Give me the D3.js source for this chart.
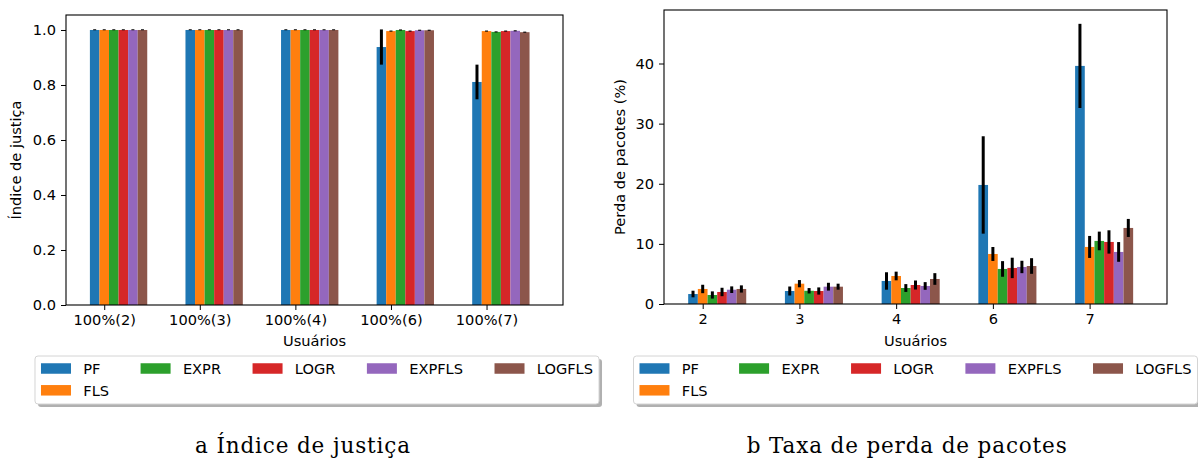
<!DOCTYPE html>
<html>
<head>
<meta charset="utf-8">
<script src="https://cdn.jsdelivr.net/npm/d3@7"></script>
<style>
  body { margin: 0; background: #fff; }
  text { font-family: "DejaVu Sans", sans-serif; fill: #000; }
</style>
</head>
<body>
<div id="chart"></div>
<script>
// series shared by both panels
var series = ["PF", "FLS", "EXPR", "LOGR", "EXPFLS", "LOGFLS"];
var colors = ["#1f77b4", "#ff7f0e", "#2ca02c", "#d62728", "#9467bd", "#8c564b"];

// panel a: fairness index
var fairCats = ["100%(2)", "100%(3)", "100%(4)", "100%(6)", "100%(7)"];
var fairMean = [
    [1.0, 1.0, 1.0, 0.938, 0.811],
    [1.0, 1.0, 1.0, 0.996, 0.996],
    [1.0, 1.0, 1.0, 1.0, 0.993],
    [1.0, 1.0, 1.0, 0.996, 0.996],
    [1.0, 1.0, 1.0, 0.999, 0.997],
    [1.0, 1.0, 1.0, 0.999, 0.992]
];
var fairErr = [
    [0.001, 0.001, 0.001, 0.064, 0.063],
    [0.001, 0.001, 0.001, 0.002, 0.002],
    [0.001, 0.001, 0.001, 0.002, 0.002],
    [0.001, 0.001, 0.001, 0.002, 0.002],
    [0.001, 0.001, 0.001, 0.002, 0.002],
    [0.001, 0.001, 0.001, 0.002, 0.002]
];
var fairTicks = [0, 0.2, 0.4, 0.6, 0.8, 1.0];

// panel b: packet loss (%)
var lossCats = ["2", "3", "4", "6", "7"];
var lossMean = [
    [1.66, 2.16, 3.83, 19.8, 39.6],
    [2.5, 3.38, 4.66, 8.32, 9.49],
    [1.5, 2.2, 2.66, 5.83, 10.49],
    [2.0, 2.16, 3.16, 6.0, 10.32],
    [2.38, 2.88, 3.0, 6.16, 8.66],
    [2.5, 2.88, 4.16, 6.32, 12.65]
];
var lossErr = [
    [0.55, 0.75, 1.45, 8.1, 7.0],
    [0.7, 0.6, 0.72, 1.16, 1.83],
    [0.6, 0.45, 0.65, 1.3, 1.55],
    [0.7, 0.6, 0.75, 1.7, 1.94],
    [0.55, 0.65, 0.64, 1.03, 1.64],
    [0.6, 0.5, 0.97, 1.3, 1.5]
];
var lossTicks = [0, 10, 20, 30, 40];

var fs = 14.6;

var svg = d3.select("#chart")
    .append("svg")
    .attr("width", 1198)
    .attr("height", 459);

function drawPanel(opt) {
    var g = svg.append("g");

    var x = d3.scaleLinear().domain([-0.4, 4.8]).range([opt.left, opt.right]);
    var y = d3.scaleLinear().domain([0, opt.ymax]).range([opt.bottom, opt.top]);
    var bw = 0.1;

    // bars
    series.forEach(function(s, k) {
        var rows = opt.cats.map(function(c, i) {
            return { i: i, v: opt.mean[k][i], e: opt.err[k][i] };
        });
        g.append("g").selectAll("rect")
            .data(rows)
            .enter().append("rect")
            .attr("x", function(d) { return x(d.i + (k - 1) * bw - bw / 2); })
            .attr("y", function(d) { return y(d.v); })
            .attr("width", x(bw) - x(0))
            .attr("height", function(d) { return y(0) - y(d.v); })
            .attr("fill", colors[k]);
    });
    // error bars on top of all bars
    series.forEach(function(s, k) {
        opt.cats.forEach(function(c, i) {
            var m = opt.mean[k][i], e = opt.err[k][i];
            g.append("line")
                .attr("x1", x(i + (k - 1) * bw))
                .attr("x2", x(i + (k - 1) * bw))
                .attr("y1", y(m - e))
                .attr("y2", Math.min(y(m + e), y(m - e) - 1))
                .attr("stroke", "#000")
                .attr("stroke-width", 3);
        });
    });

    // axes
    var xAxis = d3.axisBottom(x)
        .tickValues(d3.range(opt.cats.length))
        .tickFormat(function(d) { return opt.cats[d]; })
        .tickSizeInner(5).tickSizeOuter(0).tickPadding(5);
    var yAxis = d3.axisLeft(y)
        .tickValues(opt.ticks)
        .tickFormat(opt.fmt)
        .tickSizeInner(5).tickSizeOuter(0).tickPadding(5);

    var gx = g.append("g")
        .attr("transform", "translate(0," + opt.bottom + ")")
        .call(xAxis);
    var gy = g.append("g")
        .attr("transform", "translate(" + opt.left + ",0)")
        .call(yAxis);
    [gx, gy].forEach(function(a) {
        a.select(".domain").remove();
        a.selectAll("line").attr("stroke", "#000").attr("stroke-width", 1);
        a.selectAll("text")
            .style("font-family", "DejaVu Sans")
            .style("font-size", fs + "px")
            .attr("fill", "#000");
    });

    // frame
    g.append("rect")
        .attr("x", opt.left)
        .attr("y", opt.top)
        .attr("width", opt.right - opt.left)
        .attr("height", opt.bottom - opt.top)
        .attr("fill", "none")
        .attr("stroke", "#000")
        .attr("stroke-width", 1.1);

    // axis labels
    g.append("text")
        .attr("x", (opt.left + opt.right) / 2)
        .attr("y", 346)
        .attr("text-anchor", "middle")
        .style("font-size", fs + "px")
        .text("Usuários");

    g.append("text")
        .attr("transform", "translate(" + opt.ylabX + "," + (opt.top + opt.bottom) / 2 + ") rotate(-90)")
        .attr("text-anchor", "middle")
        .style("font-size", fs + "px")
        .text(opt.ylabel);

    drawLegend((opt.left + opt.right) / 2 + opt.legShift, 356);

    // caption
    g.append("text")
        .attr("x", opt.capX)
        .attr("y", 453)
        .attr("text-anchor", "middle")
        .attr("textLength", opt.capW)
        .attr("lengthAdjust", "spacing")
        .style("font-family", "DejaVu Serif")
        .style("font-size", "21.5px")
        .text(opt.caption);
}

function drawLegend(cx, top) {
    var lg = svg.append("g");
    // column-major, 2 rows, 5 columns
    var cols = [[0, 1], [2], [3], [4], [5]];
    var patchW = 30, patchH = 10.5, textPad = 12.3, colGap = 31.5, pad = 6;
    var rowY = [12.5, 34.3];

    var measure = svg.append("text").style("font-size", fs + "px");
    var colW = cols.map(function(c) {
        var w = d3.max(c, function(k) {
            measure.text(series[k]);
            return measure.node().getComputedTextLength();
        });
        return patchW + textPad + w;
    });
    measure.remove();

    var total = d3.sum(colW) + colGap * (cols.length - 1) + pad * 2;
    var left = cx - total / 2;
    var h = 48;

    lg.append("rect")
        .attr("x", left + 3).attr("y", top + 3)
        .attr("width", total).attr("height", h)
        .attr("rx", 3)
        .attr("fill", "#b0b0b0");
    lg.append("rect")
        .attr("x", left).attr("y", top)
        .attr("width", total).attr("height", h)
        .attr("rx", 3)
        .attr("fill", "#fff")
        .attr("stroke", "#d4d4d4")
        .attr("stroke-width", 1);

    var cxPos = left + pad;
    cols.forEach(function(c, ci) {
        c.forEach(function(k, r) {
            lg.append("rect")
                .attr("x", cxPos)
                .attr("y", top + rowY[r] - patchH / 2)
                .attr("width", patchW)
                .attr("height", patchH)
                .attr("fill", colors[k]);
            lg.append("text")
                .attr("x", cxPos + patchW + textPad)
                .attr("y", top + rowY[r])
                .attr("dy", "0.36em")
                .style("font-size", fs + "px")
                .text(series[k]);
        });
        cxPos += colW[ci] + colGap;
    });
}

drawPanel({
    left: 66, right: 563, top: 15, bottom: 305,
    ymax: 1.0545, cats: fairCats, mean: fairMean, err: fairErr,
    ticks: fairTicks, fmt: d3.format(".1f"),
    ylabel: "Índice de justiça", ylabX: 21,
    legShift: 2.5, capX: 302.5, capW: 215, caption: "a Índice de justiça"
});

drawPanel({
    left: 664, right: 1167, top: 10, bottom: 304,
    ymax: 48.9, cats: lossCats, mean: lossMean, err: lossErr,
    ticks: lossTicks, fmt: d3.format("d"),
    ylabel: "Perda de pacotes (%)", ylabX: 625,
    legShift: 0, capX: 906.7, capW: 320, caption: "b Taxa de perda de pacotes"
});
</script>
</body>
</html>
